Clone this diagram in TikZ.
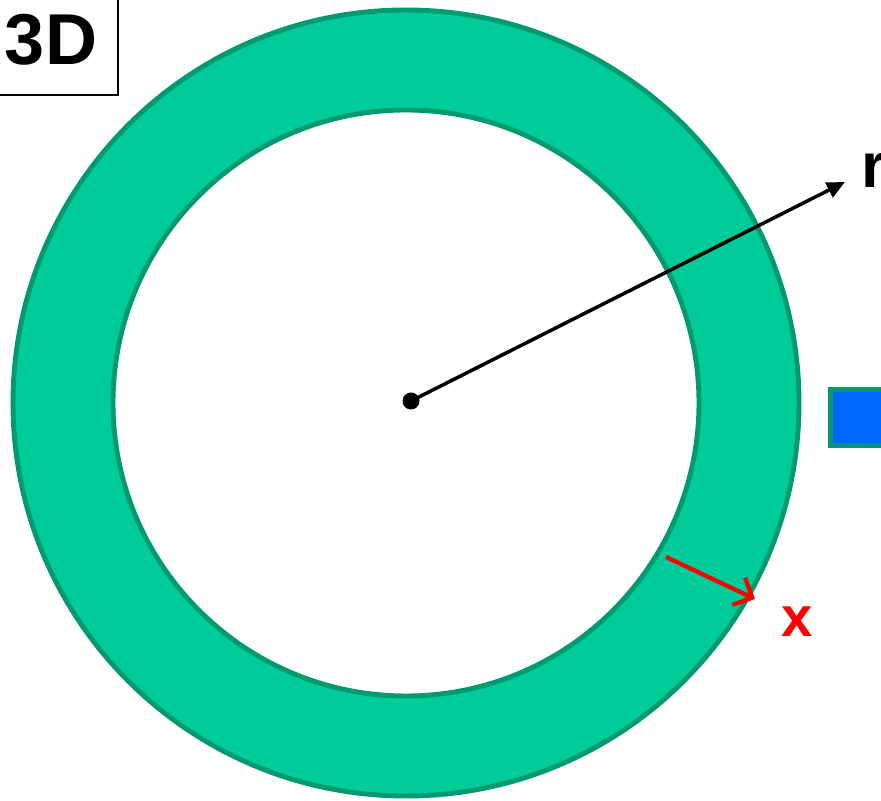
\documentclass[tikz,border=0pt]{standalone}
\usepackage{fontspec}
\setmainfont{Liberation Sans}
\usetikzlibrary{arrows.meta}
\definecolor{ringfill}{HTML}{00CC99}
\definecolor{ringedge}{HTML}{009970}
\definecolor{boxblue}{HTML}{0066FF}

\begin{document}
\begin{tikzpicture}[scale=1]
  \useasboundingbox (0,0) rectangle (8.81,8);
  \clip (0,0) rectangle (8.81,8);
  % ring
  \draw[line width=1.4pt, draw=ringedge, fill=ringfill, even odd rule]
    (4.06,3.97) circle (3.93) (4.06,3.97) circle (2.93);
  % label box
  \draw[line width=0.6pt] (-0.2,8.2) rectangle (1.18,7.05);
  \node[font=\fontsize{20.5}{24}\selectfont\bfseries] (dim) at (0.51,7.6) {3D};
  % small square
  \draw[line width=1.4pt, draw=ringedge, fill=boxblue] (8.305,4.105) rectangle (9.1,3.545);
  % radius
  \node[circle, fill=black, inner sep=0pt, minimum size=0.17cm] (ctr) at (4.11,3.99) {};
  \coordinate (rend) at (8.45,6.18);
  \draw[line width=1pt, -{Triangle[length=0.18cm,width=0.16cm]}] (ctr.center) -- (rend);
  \node[font=\fontsize{18}{22}\selectfont\bfseries] (rlab) at (8.74,6.3) {r};
  % thickness
  \coordinate (xstart) at (6.66,2.43);
  \coordinate (xend) at (7.55,2.01);
  \draw[red, line width=1.2pt, -{Straight Barb[length=0.15cm,width=0.3cm]}] (xstart) -- (xend);
  \node[red, font=\fontsize{16}{20}\selectfont\bfseries] (xlab) at (7.97,1.78) {x};
\end{tikzpicture}
\end{document}
